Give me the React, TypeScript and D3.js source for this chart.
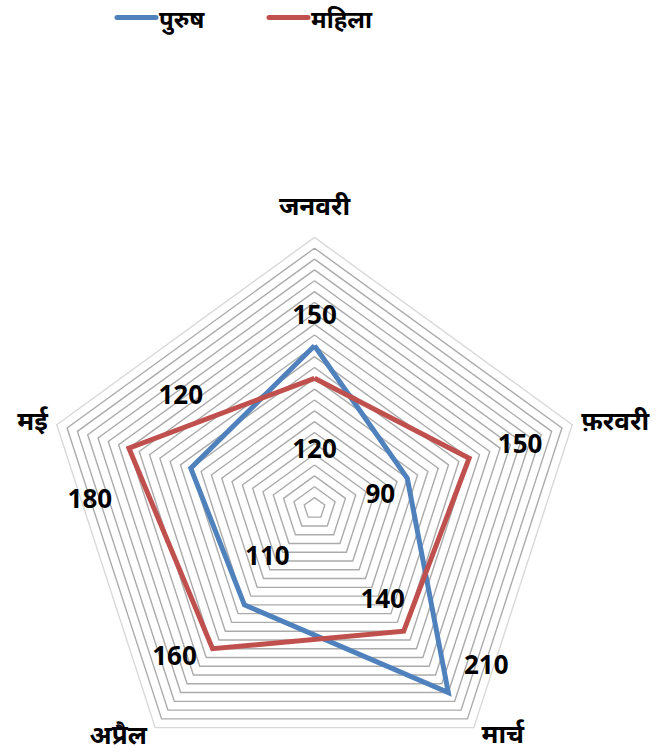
import React from "react";
import * as d3 from "d3";

const months = ["जनवरी", "फ़रवरी", "मार्च", "अप्रैल", "मई"];
const seriesNames = ["पुरुष", "महिला"];
const purush = [150, 90, 210, 110, 120];
const mahila = [120, 150, 140, 160, 180];
const maxValue = 250;
const ringStep = 10;

const W = 660;
const H = 754;
const cx = 314.5;
const cy = 508.4;
const R = 271;
const colors = ["#4f81bd", "#c0504d"];

// label nudges (px) from each point, per series
const labelNudge = [
  [[0, -32], [-27, 15], [38, -29], [23, -50], [-10, -74]],
  [[0, 70], [51, -15], [-21, -33], [-38, 6], [-39, 50]],
];
// category label nudges from each outer vertex
const catNudge: [number, number, string][] = [
  [0, -32, "middle"],
  [9, -5, "start"],
  [29, 5, "middle"],
  [-37, 6, "middle"],
  [-9, -5, "end"],
];

function App() {
  const r = d3.scaleLinear().domain([0, maxValue]).range([0, R]);
  const angle = (i: number) => (i * 2 * Math.PI) / months.length;
  const pt = (i: number, v: number): [number, number] => [
    cx + r(v) * Math.sin(angle(i)),
    cy - r(v) * Math.cos(angle(i)),
  ];
  const rings = d3.range(ringStep, maxValue + 1, ringStep);
  const ringPath = (v: number) =>
    d3.line()(months.map((_, i) => pt(i, v)).concat([pt(0, v)]))!;
  const data = [purush, mahila];
  const font = "'Noto Sans', 'Open Sans', sans-serif";

  return (
    <svg
      width={W}
      height={H}
      style={{ position: "absolute", left: 0, top: 0, background: "#fff" }}
      fontFamily={font}
      fontWeight="bold"
    >
      {/* legend */}
      {seriesNames.map((name, k) => {
        const x0 = k === 0 ? 117 : 269;
        return (
          <g key={name}>
            <line
              x1={x0}
              x2={x0 + 39}
              y1={17.5}
              y2={17.5}
              stroke={colors[k]}
              strokeWidth={5}
              strokeLinecap="round"
            />
            <text x={x0 + 42} y={21} dominantBaseline="middle" fontSize={24} fill="#000">
              {name}
            </text>
          </g>
        );
      })}

      {/* grid rings */}
      {rings.map((v) => (
        <path
          key={v}
          d={ringPath(v)}
          fill="none"
          stroke={v === maxValue ? "#d9d9d9" : "#ababab"}
          strokeWidth={1.4}
        />
      ))}

      {/* series */}
      {data.map((vals, k) => (
        <path
          key={k}
          d={d3.line()(vals.map((v, i) => pt(i, v)).concat([pt(0, vals[0])]))!}
          fill="none"
          stroke={colors[k]}
          strokeWidth={5}
          strokeLinejoin="miter"
        />
      ))}

      {/* data labels */}
      {data.map((vals, k) =>
        vals.map((v, i) => {
          const [x, y] = pt(i, v);
          const [dx, dy] = labelNudge[k][i];
          return (
            <text
              key={`${k}-${i}`}
              x={x + dx}
              y={y + dy}
              textAnchor="middle"
              dominantBaseline="central"
              fontSize={26}
              fill="#000"
            >
              {v}
            </text>
          );
        })
      )}

      {/* category labels */}
      {months.map((m, i) => {
        const [x, y] = pt(i, maxValue);
        const [dx, dy, anchor] = catNudge[i];
        return (
          <text
            key={m}
            x={x + dx}
            y={y + dy}
            textAnchor={anchor}
            dominantBaseline="central"
            fontSize={26}
            fill="#000"
          >
            {m}
          </text>
        );
      })}
    </svg>
  );
}

export default App;
